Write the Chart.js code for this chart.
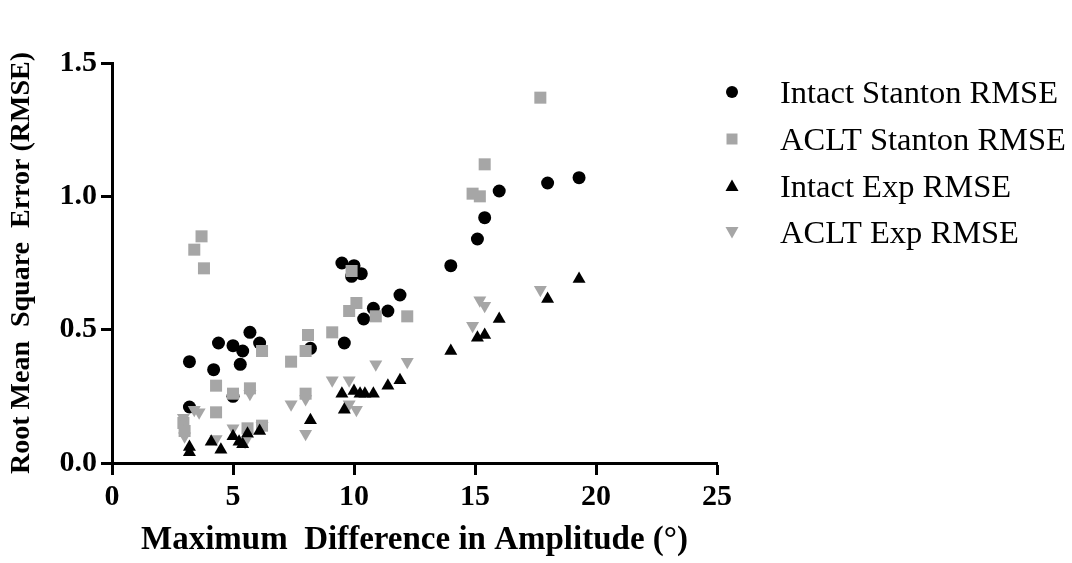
<!DOCTYPE html>
<html>
<head>
<meta charset="utf-8">
<script src="https://cdn.jsdelivr.net/npm/chart.js@4/dist/chart.umd.min.js"></script>
<style>
  body { margin: 0; background: #fff; }
  #wrap { width: 1072px; height: 563px; position: relative; }
</style>
</head>
<body>
<div id="wrap"><canvas id="scatterchart"></canvas></div>
<script>
var seriesNames = ['Intact Stanton RMSE', 'ACLT Stanton RMSE', 'Intact Exp RMSE', 'ACLT Exp RMSE'];

// Intact Stanton RMSE (black circles)
var intactStantonX = [3.2, 3.2, 4.2, 4.4, 5.0, 5.0, 5.3, 5.4, 5.7, 6.1, 8.2, 9.5, 9.6, 9.9, 10.0, 10.3, 10.4, 10.8, 11.4, 11.9, 14.0, 15.1, 15.4, 16.0, 18.0, 19.3];
var intactStantonY = [0.38, 0.21, 0.35, 0.45, 0.44, 0.25, 0.37, 0.42, 0.49, 0.45, 0.43, 0.75, 0.45, 0.70, 0.74, 0.71, 0.54, 0.58, 0.57, 0.63, 0.74, 0.84, 0.92, 1.02, 1.05, 1.07];

// ACLT Stanton RMSE (grey squares)
var acltStantonX = [2.95, 3.0, 3.4, 3.7, 3.8, 4.3, 4.3, 5.0, 5.6, 5.7, 6.2, 6.2, 7.4, 8.0, 8.0, 8.1, 9.1, 9.8, 9.9, 10.1, 10.9, 12.2, 14.9, 15.2, 15.4, 17.7];
var acltStantonY = [0.15, 0.12, 0.80, 0.85, 0.73, 0.19, 0.29, 0.26, 0.13, 0.28, 0.14, 0.42, 0.38, 0.42, 0.26, 0.48, 0.49, 0.57, 0.72, 0.60, 0.55, 0.55, 1.01, 1.00, 1.12, 1.37];

// Intact Exp RMSE (black triangles)
var intactExpX = [3.2, 3.2, 4.1, 4.5, 5.0, 5.25, 5.4, 5.6, 6.1, 8.2, 9.5, 9.6, 10.0, 10.25, 10.45, 10.8, 11.4, 11.9, 14.0, 15.1, 15.4, 16.0, 18.0, 19.3];
var intactExpY = [0.06, 0.04, 0.08, 0.05, 0.10, 0.08, 0.07, 0.11, 0.12, 0.16, 0.26, 0.20, 0.27, 0.26, 0.26, 0.26, 0.29, 0.31, 0.42, 0.47, 0.48, 0.54, 0.615, 0.69];

// ACLT Exp RMSE (grey down triangles)
var acltExpX = [2.95, 3.0, 3.4, 3.6, 4.3, 5.0, 5.5, 5.7, 6.2, 7.4, 8.0, 8.0, 9.1, 9.8, 9.8, 10.1, 10.9, 12.2, 14.9, 15.2, 15.4, 17.7];
var acltExpY = [0.17, 0.10, 0.20, 0.19, 0.09, 0.13, 0.08, 0.26, 0.14, 0.22, 0.24, 0.11, 0.31, 0.31, 0.22, 0.20, 0.37, 0.38, 0.515, 0.61, 0.59, 0.65];

var xTicks = [0, 5, 10, 15, 20, 25];
var yTicks = [0.0, 0.5, 1.0, 1.5];

var BLACK = '#000000';
var GREY = '#a6a6a6';

function pts(xs, ys) {
  var out = [];
  for (var i = 0; i < xs.length; i++) out.push({x: xs[i], y: ys[i]});
  return out;
}

var styles = [
  {color: BLACK, style: 'circle', radius: 6.5, rotation: 0, order: 4},
  {color: GREY, style: 'rect', radius: 8.5, rotation: 0, order: 3},
  {color: BLACK, style: 'triangle', radius: 7.5, rotation: 0, order: 1},
  {color: GREY, style: 'triangle', radius: 7.5, rotation: 180, order: 2}
];
var values = [
  pts(intactStantonX, intactStantonY),
  pts(acltStantonX, acltStantonY),
  pts(intactExpX, intactExpY),
  pts(acltExpX, acltExpY)
];

var datasets = [];
for (var i = 0; i < seriesNames.length; i++) {
  datasets.push({
    label: seriesNames[i],
    data: values[i],
    pointStyle: styles[i].style,
    pointRadius: styles[i].radius,
    pointHoverRadius: styles[i].radius,
    pointRotation: styles[i].rotation,
    backgroundColor: styles[i].color,
    borderColor: styles[i].color,
    borderWidth: 0,
    order: styles[i].order
  });
}

// legend on the right, drawn by hand so it sits where the original has it
var sideLegend = {
  id: 'sideLegend',
  afterDraw: function(chart) {
    var ctx = chart.ctx;
    var rows = [92, 139, 186, 232];
    ctx.save();
    for (var i = 0; i < seriesNames.length; i++) {
      var y = rows[i];
      var cx = 732;
      ctx.fillStyle = styles[i].color;
      ctx.beginPath();
      if (styles[i].style === 'circle') {
        ctx.arc(cx, y, 6, 0, Math.PI * 2);
      } else if (styles[i].style === 'rect') {
        ctx.rect(cx - 5.5, y - 5.5, 11, 11);
      } else if (styles[i].rotation === 0) {
        ctx.moveTo(cx, y - 6.5); ctx.lineTo(cx + 6.5, y + 5); ctx.lineTo(cx - 6.5, y + 5);
      } else {
        ctx.moveTo(cx, y + 6.5); ctx.lineTo(cx + 6.5, y - 5); ctx.lineTo(cx - 6.5, y - 5);
      }
      ctx.closePath();
      ctx.fill();
      ctx.fillStyle = BLACK;
      ctx.font = '32.5px "Liberation Serif", "Times New Roman", serif';
      ctx.textBaseline = 'alphabetic';
      ctx.textAlign = 'left';
      ctx.fillText(seriesNames[i], 780, y + 10.5);
    }
    ctx.restore();
  }
};

var tickFont = {family: '"Liberation Serif", "Times New Roman", serif', size: 30, weight: 'bold'};

var config = {
  type: 'scatter',
  data: {datasets: datasets},
  options: {
    responsive: true,
    maintainAspectRatio: false,
    animation: false,
    events: [],
    layout: {padding: {left: 0, top: 63, right: 355, bottom: 3}},
    plugins: {
      legend: {display: false},
      tooltip: {enabled: false}
    },
    scales: {
      x: {
        type: 'linear',
        min: 0,
        max: 25,
        afterBuildTicks: function(scale) {
          scale.ticks = xTicks.map(function(v) { return {value: v}; });
        },
        afterFit: function(scale) { scale.height = 97; },
        grid: {drawOnChartArea: false, drawTicks: true, tickLength: 12, tickWidth: 3, tickColor: BLACK},
        border: {display: true, color: BLACK, width: 3},
        ticks: {color: BLACK, font: tickFont, padding: 4, maxRotation: 0},
        title: {
          display: true,
          text: 'Maximum  Difference in Amplitude (°)',
          color: BLACK,
          font: {family: '"Liberation Serif", "Times New Roman", serif', size: 33, weight: 'bold'},
          padding: {top: 0, bottom: 0}
        }
      },
      y: {
        type: 'linear',
        min: 0,
        max: 1.5,
        afterBuildTicks: function(scale) {
          scale.ticks = yTicks.map(function(v) { return {value: v}; });
        },
        afterFit: function(scale) { scale.width = 112; },
        grid: {drawOnChartArea: false, drawTicks: true, tickLength: 11, tickWidth: 3, tickColor: BLACK},
        border: {display: true, color: BLACK, width: 3},
        ticks: {
          color: BLACK,
          font: tickFont,
          padding: 4,
          callback: function(v) { return Number(v).toFixed(1); }
        },
        title: {
          display: true,
          text: 'Root Mean  Square  Error (RMSE)',
          color: BLACK,
          font: {family: '"Liberation Serif", "Times New Roman", serif', size: 28, weight: 'bold'},
          padding: {top: 5, bottom: 0}
        }
      }
    }
  },
  plugins: [sideLegend]
};

var scatterchart = new Chart(document.getElementById('scatterchart'), config);
</script>
</body>
</html>
